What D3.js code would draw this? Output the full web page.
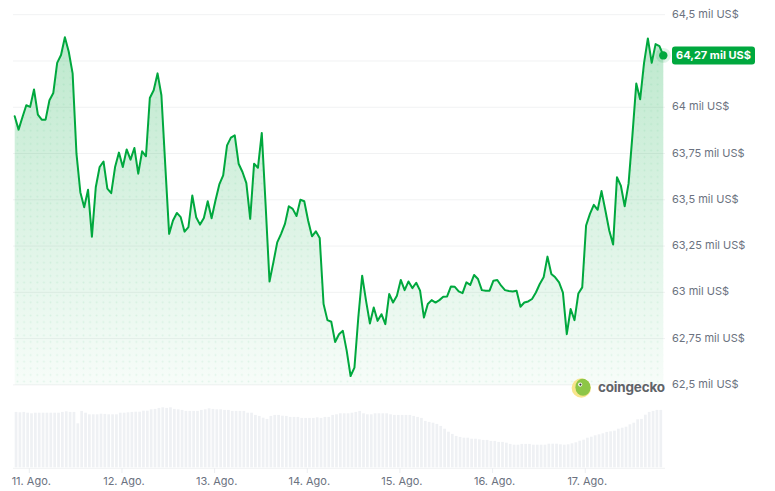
<!DOCTYPE html>
<html>
<head>
<meta charset="utf-8">
<script src="https://cdn.jsdelivr.net/npm/d3@7"></script>
<style>
  html, body { margin: 0; padding: 0; background: #ffffff; }
  svg { display: block; }
  text { font-family: Inter, "Noto Sans", sans-serif; }
</style>
</head>
<body>
<svg id="chart" width="775" height="491"></svg>
<script>
// ---- Data (hourly, BTC price in thousands of US$) ----
const startTime = "2024-08-10T20:13:00Z";
const prices = [
  63.951,63.879,63.946,64.011,64.002,64.096,63.960,63.933,63.933,64.038,
  64.077,64.240,64.282,64.378,64.300,64.183,63.749,63.541,63.460,63.554,
  63.301,63.568,63.677,63.707,63.560,63.536,63.677,63.755,63.677,63.772,
  63.717,63.780,63.641,63.762,63.735,64.050,64.092,64.183,64.065,63.686,
  63.316,63.388,63.429,63.406,63.328,63.352,63.523,63.406,63.366,63.402,
  63.492,63.400,63.496,63.583,63.632,63.794,63.836,63.848,63.695,63.650,
  63.590,63.397,63.695,63.673,63.861,63.469,63.059,63.162,63.270,63.316,
  63.370,63.465,63.451,63.413,63.500,63.492,63.388,63.303,63.330,63.294,
  62.937,62.850,62.841,62.732,62.774,62.792,62.684,62.548,62.593,62.864,
  63.090,62.955,62.832,62.918,62.846,62.882,62.828,62.991,62.945,62.982,
  63.067,63.012,63.059,63.023,63.052,63.009,62.864,62.937,62.958,62.945,
  62.958,62.976,62.978,63.032,63.030,63.005,62.996,63.054,63.040,63.094,
  63.072,63.012,63.009,63.009,63.063,63.067,63.036,63.012,63.007,63.005,
  63.009,62.922,62.945,62.951,62.964,62.999,63.045,63.081,63.193,63.099,
  63.081,63.054,62.999,62.774,62.910,62.850,62.994,63.027,63.361,63.424,
  63.473,63.446,63.547,63.442,63.334,63.258,63.622,63.577,63.465,63.587,
  63.848,64.128,64.043,64.237,64.372,64.240,64.341,64.330,64.280
];
// hourly volume (relative, mil millones US$)
const volumes = [
  27.7,27.5,27.7,27.3,27.0,27.3,27.3,27.3,27.3,27.3,27.3,27.3,27.7,28.0,27.7,27.7,22.0,28.2,27.3,26.5,
  26.5,26.5,26.8,26.7,26.5,26.5,26.5,27.3,27.3,27.5,27.7,27.8,27.8,28.3,28.3,29.0,29.2,29.7,30.0,29.7,
  30.0,29.2,29.0,28.7,28.2,28.2,28.2,28.2,28.7,29.0,29.5,29.2,29.0,29.0,28.7,28.7,
  28.2,28.2,28.2,28.2,27.3,27.3,26.2,25.7,24.8,24.2,25.7,26.2,26.2,25.8,25.7,25.2,25.2,25.2,24.7,24.7,
  24.7,24.7,25.0,24.7,25.2,25.2,26.2,26.5,27.0,27.0,27.0,27.3,27.7,28.2,27.0,26.5,26.5,27.0,27.0,27.0,
  27.0,26.5,26.2,26.2,26.2,26.2,26.2,25.7,25.2,24.7,23.2,22.7,22.3,21.7,20.7,19.3,17.8,
  16.7,15.7,15.2,14.8,14.8,14.3,14.3,14.0,13.7,13.7,13.2,13.2,12.7,12.7,12.3,11.7,11.3,11.3,11.7,11.7,
  11.7,11.3,11.3,11.3,11.3,11.8,11.8,11.8,11.5,11.3,11.5,12.0,12.5,13.3,13.8,14.8,15.3,16.0,16.5,17.0,
  17.7,18.0,18.3,19.3,19.8,20.3,21.5,22.3,24.0,24.2,26.3,27.7,28.2,28.7,28.7
];
const yTicks = [62.5, 62.75, 63, 63.25, 63.5, 63.75, 64, 64.25, 64.5];
const currentLabel = "64,27 mil US$";
const brandLabel = "coingecko";

// ---- Setup ----
const svg = d3.select("#chart");
const green = "#00a83e";
const hour = 3600 * 1000;
const t0 = new Date(startTime).getTime();
const data = prices.map((p, i) => ({ t: new Date(t0 + i * hour), p }));
const vdata = volumes.map((v, i) => ({ t: new Date(t0 + i * hour), v }));

const x = d3.scaleUtc()
  .domain([data[0].t, data[data.length - 1].t])
  .range([14.7, 663.3]);
const y = d3.scaleLinear().domain([62.5, 64.5]).range([384.9, 14.7]);
const yv = d3.scaleLinear().domain([0, 35]).range([467.3, 397.3]);

const esLocale = d3.timeFormatLocale({
  dateTime: "%A, %e de %B de %Y, %X", date: "%d/%m/%Y", time: "%H:%M:%S",
  periods: ["AM", "PM"],
  days: ["domingo","lunes","martes","miércoles","jueves","viernes","sábado"],
  shortDays: ["dom","lun","mar","mié","jue","vie","sáb"],
  months: ["enero","febrero","marzo","abril","mayo","junio","julio","agosto","septiembre","octubre","noviembre","diciembre"],
  shortMonths: ["Ene.","Feb.","Mar.","Abr.","May.","Jun.","Jul.","Ago.","Sep.","Oct.","Nov.","Dic."]
});
const fmtDay = esLocale.utcFormat("%-d. %b");
const fmtPrice = v => d3.format(".2~f")(v).replace(".", ",") + " mil US$";

// ---- defs ----
const defs = svg.append("defs");
const grad = defs.append("linearGradient")
  .attr("id", "areaGrad").attr("gradientUnits", "userSpaceOnUse")
  .attr("x1", 0).attr("y1", y(64.4)).attr("x2", 0).attr("y2", y(62.5));
grad.append("stop").attr("offset", "0%").attr("stop-color", green).attr("stop-opacity", 0.26);
grad.append("stop").attr("offset", "100%").attr("stop-color", green).attr("stop-opacity", 0.03);

const pat = defs.append("pattern")
  .attr("id", "dots").attr("patternUnits", "userSpaceOnUse")
  .attr("width", 6.6).attr("height", 6.6).attr("x", 1).attr("y", 2);
pat.append("circle").attr("cx", 3.3).attr("cy", 3.3).attr("r", 0.9)
  .attr("fill", green).attr("fill-opacity", 0.09);

// ---- grid ----
svg.append("g").selectAll("line").data(yTicks).join("line")
  .attr("x1", 13).attr("x2", 665)
  .attr("y1", d => y(d)).attr("y2", d => y(d))
  .attr("stroke", "#f1f2f3").attr("stroke-width", 1);

// ---- area ----
const area = d3.area().x(d => x(d.t)).y0(y(62.5)).y1(d => y(d.p)).curve(d3.curveLinear);
svg.append("path").datum(data).attr("d", area).attr("fill", "url(#areaGrad)");
svg.append("path").datum(data).attr("d", area).attr("fill", "url(#dots)");

// ---- line ----
const line = d3.line().x(d => x(d.t)).y(d => y(d.p)).curve(d3.curveLinear);
svg.append("path").datum(data).attr("d", line)
  .attr("fill", "none").attr("stroke", green).attr("stroke-width", 2)
  .attr("stroke-linejoin", "round").attr("stroke-linecap", "round");

// ---- volume bars ----
svg.append("g").selectAll("rect").data(vdata).join("rect")
  .attr("x", d => x(d.t))
  .attr("width", 2.7)
  .attr("y", d => yv(d.v))
  .attr("height", d => yv(0) - yv(d.v))
  .attr("fill", "#eff1f4");

// ---- x axis ----
svg.append("line").attr("x1", 13).attr("x2", 665)
  .attr("y1", 468.3).attr("y2", 468.3).attr("stroke", "#f1f2f3");
const days = x.ticks(d3.utcDay.every(1)).filter(d => x(d) > 20);
const xg = svg.append("g");
xg.selectAll("line").data(days).join("line")
  .attr("x1", d => x(d)).attr("x2", d => x(d))
  .attr("y1", 468).attr("y2", 473)
  .attr("stroke", "#eceef1");
xg.selectAll("text").data(days).join("text")
  .attr("x", d => x(d) + 2).attr("y", 482)
  .attr("text-anchor", "middle").attr("dominant-baseline", "middle")
  .attr("font-size", 11).attr("fill", "#6b7280")
  .text(d => fmtDay(d));

// ---- current price marker position ----
const last = data[data.length - 1];
const lx = x(last.t), ly = y(last.p);

// ---- y labels (a label hidden under the current-price badge is not drawn) ----
svg.append("g").selectAll("text")
  .data(yTicks.filter(d => Math.abs(y(d) - ly) > 12))
  .join("text")
  .attr("x", 672).attr("y", d => y(d))
  .attr("dominant-baseline", "middle")
  .attr("font-size", 11).attr("fill", "#6b7280")
  .text(d => fmtPrice(d));

// ---- current price marker ----
svg.append("circle").attr("cx", lx).attr("cy", ly).attr("r", 7.5)
  .attr("fill", green).attr("fill-opacity", 0.12);
svg.append("circle").attr("cx", lx).attr("cy", ly).attr("r", 4.2).attr("fill", green);
svg.append("rect").attr("x", 672).attr("y", ly - 9).attr("width", 83).attr("height", 18)
  .attr("rx", 3).attr("fill", green);
svg.append("text").attr("x", 713.5).attr("y", ly + 0.5)
  .attr("text-anchor", "middle").attr("dominant-baseline", "middle")
  .attr("font-size", 11).attr("font-weight", 700).attr("fill", "#ffffff")
  .text(currentLabel);

// ---- brand ----
const lg = svg.append("g");
defs.append("clipPath").attr("id", "logoClip")
  .append("circle").attr("cx", 581.3).attr("cy", 388).attr("r", 9.7);
lg.append("circle").attr("cx", 581.3).attr("cy", 388).attr("r", 9.7).attr("fill", "#f8e58c");
lg.append("ellipse").attr("cx", 583).attr("cy", 387.2).attr("rx", 7.6).attr("ry", 8.6)
  .attr("fill", "#8dc647").attr("clip-path", "url(#logoClip)");
lg.append("circle").attr("cx", 580.2).attr("cy", 384.6).attr("r", 2.1).attr("fill", "#ffffff");
lg.append("circle").attr("cx", 580.4).attr("cy", 384.6).attr("r", 1.1).attr("fill", "#333");
lg.append("text").attr("x", 598).attr("y", 388)
  .attr("dominant-baseline", "middle")
  .attr("font-size", 13.5).attr("font-weight", 700).attr("fill", "#5f6368")
  .attr("letter-spacing", -0.2)
  .text(brandLabel);
</script>
</body>
</html>
